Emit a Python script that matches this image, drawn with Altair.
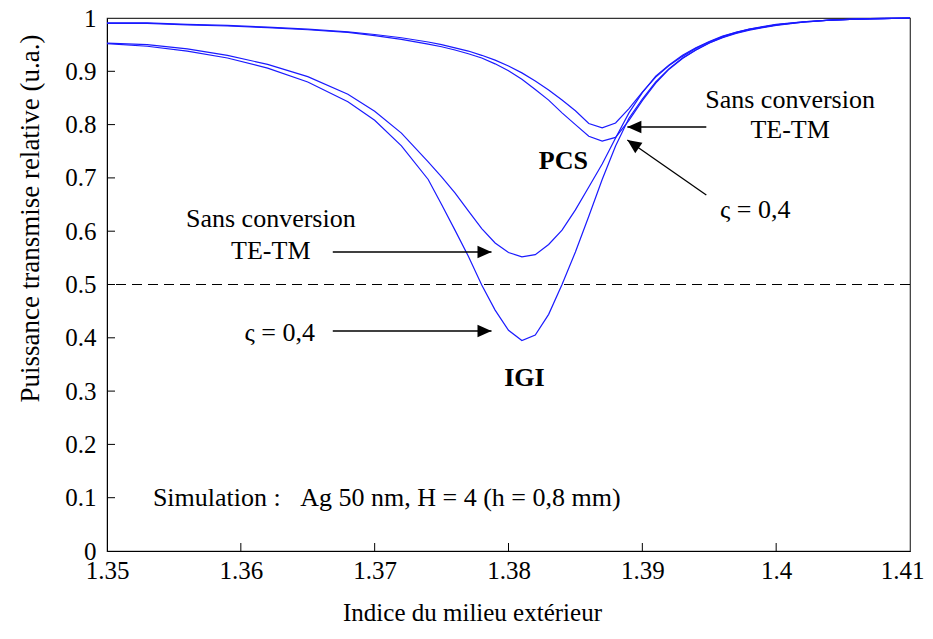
import altair as alt
import pandas as pd

# ---- data ----
x_grid = [1.350, 1.353, 1.356, 1.359, 1.362, 1.365, 1.368, 1.370, 1.372, 1.374,
          1.375, 1.376, 1.377, 1.378, 1.379, 1.380, 1.381, 1.382, 1.383, 1.384,
          1.385, 1.386, 1.387, 1.388, 1.389, 1.390, 1.391, 1.392, 1.393, 1.394,
          1.395, 1.396, 1.397, 1.398, 1.399, 1.400, 1.402, 1.404, 1.406, 1.408, 1.410]

igi_sans = [0.953, 0.950, 0.942, 0.930, 0.913, 0.890, 0.857, 0.825, 0.784, 0.730,
            0.702, 0.672, 0.638, 0.605, 0.578, 0.560, 0.552, 0.556, 0.575, 0.602,
            0.640, 0.683, 0.726, 0.775, 0.822, 0.860, 0.891, 0.912, 0.930, 0.944,
            0.956, 0.966, 0.973, 0.979, 0.983, 0.987, 0.993, 0.996, 0.998, 0.999, 1.000]

igi_s04 = [0.952, 0.947, 0.938, 0.925, 0.906, 0.880, 0.843, 0.808, 0.760, 0.697,
           0.650, 0.602, 0.553, 0.499, 0.452, 0.414, 0.395, 0.405, 0.444, 0.500,
           0.561, 0.628, 0.697, 0.760, 0.812, 0.848, 0.880, 0.905, 0.925, 0.940,
           0.953, 0.963, 0.971, 0.977, 0.982, 0.986, 0.992, 0.996, 0.998, 0.999, 1.000]

pcs_sans = [0.991, 0.991, 0.988, 0.986, 0.983, 0.979, 0.974, 0.969, 0.963, 0.955,
            0.950, 0.944, 0.938, 0.930, 0.921, 0.910, 0.897, 0.882, 0.865, 0.846,
            0.826, 0.802, 0.794, 0.803, 0.830, 0.861, 0.889, 0.911, 0.928, 0.943,
            0.955, 0.965, 0.973, 0.979, 0.984, 0.988, 0.993, 0.996, 0.998, 1.000, 1.000]

pcs_s04 = [0.990, 0.990, 0.987, 0.985, 0.982, 0.978, 0.973, 0.967, 0.960, 0.951,
           0.946, 0.940, 0.933, 0.925, 0.914, 0.901, 0.885, 0.866, 0.846, 0.822,
           0.800, 0.778, 0.769, 0.776, 0.808, 0.845, 0.878, 0.904, 0.924, 0.940,
           0.953, 0.964, 0.972, 0.978, 0.983, 0.987, 0.992, 0.996, 0.998, 0.999, 1.000]

x_ticks = [1.35, 1.36, 1.37, 1.38, 1.39, 1.40, 1.41]
y_ticks = [0, 0.1, 0.2, 0.3, 0.4, 0.5, 0.6, 0.7, 0.8, 0.9, 1.0]
threshold = [0.5]

# annotations (data coordinates)
txt_labels = ["Sans conversion", "TE-TM", "\u03c2 = 0,4",
              "Sans conversion", "TE-TM", "\u03c2 = 0,4"]
txt_x = [1.40104, 1.40104, 1.39843, 1.36224, 1.36224, 1.36291]
txt_y = [0.8460, 0.7900, 0.6400, 0.6230, 0.5630, 0.4090]

bold_labels = ["PCS", "IGI"]
bold_x = [1.38410, 1.38119]
bold_y = [0.7317, 0.3246]

note_label = ["Simulation :\u00a0\u00a0\u00a0Ag 50 nm, H = 4 (h = 0,8 mm)"]
note_x = [1.35343]
note_y = [0.0994]

arrow_x1 = [1.39478, 1.39478, 1.36687, 1.36687]
arrow_y1 = [0.7955, 0.6679, 0.5610, 0.4128]
arrow_x2 = [1.38888, 1.38888, 1.37873, 1.37873]
arrow_y2 = [0.7955, 0.7711, 0.5610, 0.4128]
arrow_angle = [180, 214.8, 0, 0]

# ---- tables ----
rows = []
for name, vals in [("IGI sans", igi_sans), ("IGI s04", igi_s04),
                   ("PCS sans", pcs_sans), ("PCS s04", pcs_s04)]:
    for xv, yv in zip(x_grid, vals):
        rows.append({"x": xv, "y": yv, "curve": name})
curves = pd.DataFrame(rows)

W, H = 803, 533
FONT = "Liberation Serif, Times New Roman, DejaVu Serif, serif"
xs = alt.Scale(domain=[1.35, 1.41], nice=False, zero=False)
ys = alt.Scale(domain=[0, 1], nice=False)

x_axis = alt.Axis(values=x_ticks, format=".3~f", ticks=False, grid=False,
                  domainColor="black", labelColor="black", labelFont=FONT,
                  labelFontSize=25, labelPadding=7, labelFlush=False,
                  labelOffset={"condition": {"test": "datum.value >= 1.409", "value": -8},
                               "value": 0},
                  title="Indice du milieu extérieur", titleFont=FONT,
                  titleFontSize=25, titleFontWeight="normal", titleColor="black",
                  titleX=365, titleY=61, titleBaseline="middle", titleAlign="center")
y_axis = alt.Axis(values=y_ticks, format=".1~f", ticks=False, grid=False,
                  domainColor="black", labelColor="black", labelFont=FONT,
                  labelFontSize=25, labelPadding=11, labelFlush=False,
                  title="Puissance transmise relative (u.a.)", titleFont=FONT,
                  titleFontSize=27, titleFontWeight="normal", titleColor="black",
                  titleX=-77, titleY=200, titleBaseline="middle", titleAlign="center",
                  titleAngle=270)

lines = alt.Chart(curves).mark_line(color="#1a1aff", strokeWidth=1.2).encode(
    x=alt.X("x:Q", scale=xs, axis=x_axis),
    y=alt.Y("y:Q", scale=ys, axis=y_axis),
    detail="curve:N",
)

dash = alt.Chart(pd.DataFrame({"y": threshold})).mark_rule(
    color="black", strokeDash=[10, 6], strokeWidth=1.2).encode(
    y=alt.Y("y:Q", scale=ys))

ytick_df = pd.DataFrame({"v": y_ticks[1:-1]})
yt = alt.Chart(ytick_df).mark_rule(color="black").encode(
    y=alt.Y("v:Q", scale=ys), x=alt.value(0), x2=alt.value(8))

xtick_df = pd.DataFrame({"v": x_ticks[1:-1]})
xt = alt.Chart(xtick_df).mark_rule(color="black").encode(
    x=alt.X("v:Q", scale=xs), y=alt.value(H), y2=alt.value(H - 8))

arr_df = pd.DataFrame({"x1": arrow_x1, "y1": arrow_y1, "x2": arrow_x2,
                       "y2": arrow_y2, "a": arrow_angle})
arr_lines = alt.Chart(arr_df).mark_rule(color="black", strokeWidth=1.3).encode(
    x=alt.X("x1:Q", scale=xs), y=alt.Y("y1:Q", scale=ys),
    x2="x2:Q", y2="y2:Q")
arr_heads = alt.Chart(arr_df).mark_point(
    shape="M0,0L-1,-0.45L-1,0.45Z", filled=True, color="black",
    size=784, opacity=1, strokeWidth=0).encode(
    x=alt.X("x2:Q", scale=xs), y=alt.Y("y2:Q", scale=ys),
    angle=alt.Angle("a:Q", scale=None))

txt_df = pd.DataFrame({"x": txt_x, "y": txt_y, "t": txt_labels})
texts = alt.Chart(txt_df).mark_text(font=FONT, fontSize=26, color="black",
                                    align="center", baseline="middle").encode(
    x=alt.X("x:Q", scale=xs), y=alt.Y("y:Q", scale=ys), text="t:N")

bold_df = pd.DataFrame({"x": bold_x, "y": bold_y, "t": bold_labels})
bolds = alt.Chart(bold_df).mark_text(font=FONT, fontSize=26, fontWeight="bold",
                                     color="black", align="center",
                                     baseline="middle").encode(
    x=alt.X("x:Q", scale=xs), y=alt.Y("y:Q", scale=ys), text="t:N")

note_df = pd.DataFrame({"x": note_x, "y": note_y, "t": note_label})
note = alt.Chart(note_df).mark_text(font=FONT, fontSize=26, color="black",
                                    align="left", baseline="middle").encode(
    x=alt.X("x:Q", scale=xs), y=alt.Y("y:Q", scale=ys), text="t:N")

chart = alt.layer(lines, dash, yt, xt, arr_lines, arr_heads, texts, bolds, note).properties(
    width=W, height=H,
    padding={"left": 99, "top": 10, "right": 15, "bottom": 80},
    autosize=alt.AutoSizeParams(type="none"),
    background="white",
).configure_view(stroke="#333333", strokeWidth=1.2)

chart.save("out.html", embed_options={"renderer": "svg", "actions": False})
